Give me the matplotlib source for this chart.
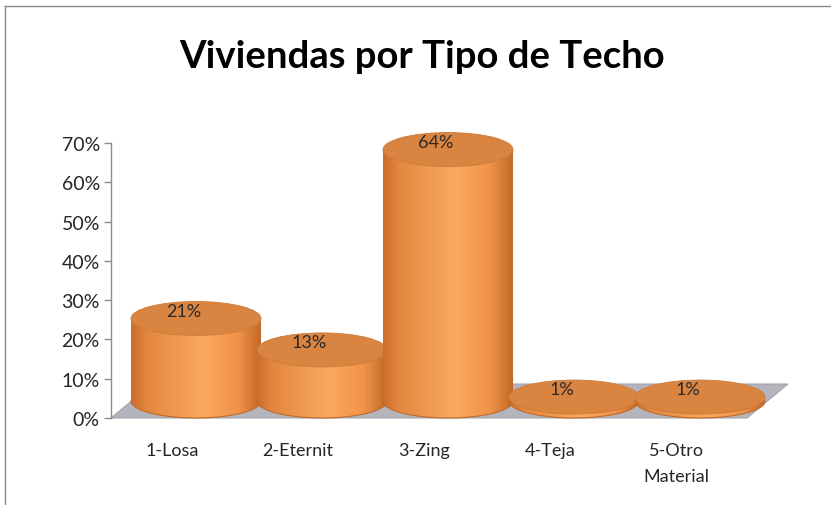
import numpy as np
import matplotlib
matplotlib.use("Agg")
import matplotlib.pyplot as plt
from matplotlib.patches import Ellipse, Polygon
from matplotlib.colors import LinearSegmentedColormap
from matplotlib.lines import Line2D
from matplotlib.ticker import FuncFormatter

# ---- data ----
categories = ["1-Losa", "2-Eternit", "3-Zing", "4-Teja", "5-Otro\nMaterial"]
values = [21, 13, 64, 1, 1]
labels = ["21%", "13%", "64%", "1%", "1%"]
yticks = [0, 10, 20, 30, 40, 50, 60, 70]
title = "Viviendas por Tipo de Techo"

plt.rcParams['font.family'] = ['Lato', 'DejaVu Sans']

fig = plt.figure(figsize=(8.31, 5.06), dpi=100)
ax = fig.add_axes([0.11456, 0.13312, 0.86426, 0.62887])
ax.set_facecolor('none')

RX = 0.516      # cylinder half width (category units)
RY = 4.33       # ellipse half height (value units)

# floor (parallelogram)
floor = Polygon([(-0.675, 0), (4.373, 0), (4.698, 8.65), (-0.349, 8.65)],
                closed=True, facecolor='#b4b4bc', edgecolor='#a4a4ac', lw=0.8, zorder=1)
ax.add_patch(floor)

cmap = LinearSegmentedColormap.from_list('cyl', [
    (0.0, '#c96e2d'), (0.12, '#e3873f'), (0.55, '#fba85f'),
    (0.82, '#f09349'), (1.0, '#bf6724')])
grad = np.linspace(0, 1, 256)[np.newaxis, :]

for i, v in enumerate(values):
    c = i
    base = RY
    top = RY + v
    z = 3 + i
    th = np.linspace(np.pi, 2 * np.pi, 80)
    pts = [(c + RX * np.cos(t), base + RY * np.sin(t)) for t in th]
    pts += [(c + RX, top), (c - RX, top)]
    body = Polygon(pts, closed=True, facecolor='none', edgecolor='none', zorder=z)
    ax.add_patch(body)
    im = ax.imshow(grad, extent=[c - RX, c + RX, base - RY, top + 0.01],
                   aspect='auto', cmap=cmap, zorder=z, interpolation='bicubic')
    im.set_clip_path(body)
    ax.plot(c + RX * np.cos(th), base + RY * np.sin(th), color='#c06a28', lw=0.8, zorder=z)
    topell = Ellipse((c, top), 2 * RX, 2 * RY, facecolor='#d98441',
                     edgecolor='#cf7a36', lw=0.6, zorder=z + 0.1)
    ax.add_patch(topell)
    ax.text(c - 0.1, top + 2.0, labels[i], ha='center', va='center',
            fontsize=13, color='#2a2a2a', zorder=20)

ax.set_xlim(-0.8, 4.9)
ax.set_ylim(-5, 76)

# axes styling
for s in ['top', 'right', 'bottom']:
    ax.spines[s].set_visible(False)
ax.spines['left'].set_position(('data', -0.675))
ax.spines['left'].set_bounds(0, 70)
ax.spines['left'].set_color('#8c8c8c')
ax.spines['left'].set_linewidth(1.0)
ax.spines['left'].set_zorder(2)
ax.set_yticks(yticks)
ax.yaxis.set_major_formatter(FuncFormatter(lambda y, p: f"{int(y)}%"))
ax.tick_params(axis='y', direction='out', length=5, width=1.0, color='#8c8c8c',
               labelsize=14, labelcolor='#262626', pad=3)
ax.set_xticks([i - 0.19 for i in range(len(categories))])
ax.set_xticklabels(categories, fontsize=13, color='#262626', linespacing=1.8)
ax.tick_params(axis='x', length=0, pad=3)

# title
fig.text(0.508, 0.888, title, ha='center', va='center', fontsize=27.5,
         fontweight='bold', color='#000000')

# chart border (top and left)
fig.add_artist(Line2D([0.006, 1.0], [0.986, 0.986], color='#8a8a8a', lw=1.0))
fig.add_artist(Line2D([0.006, 0.006], [0.0, 0.986], color='#8a8a8a', lw=1.0))

fig.savefig('out.png', dpi=100)
